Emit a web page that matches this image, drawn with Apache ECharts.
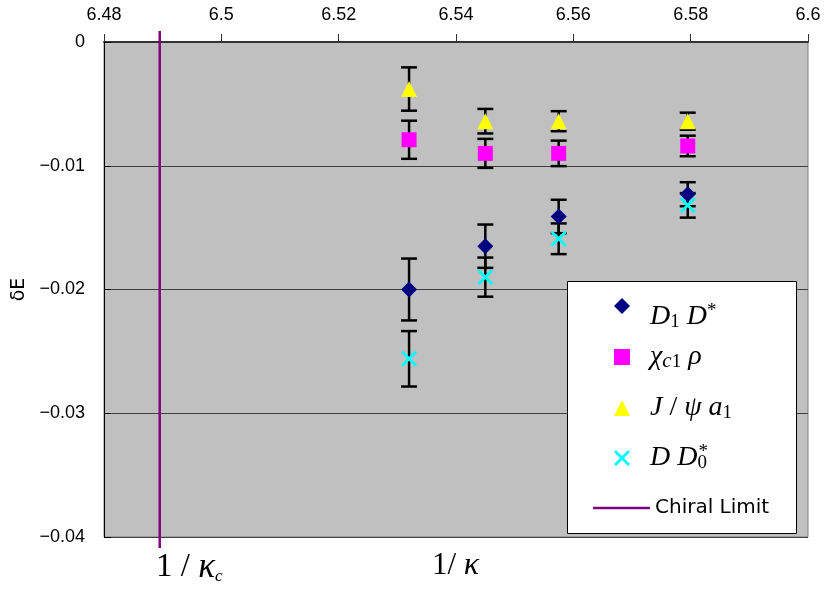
<!DOCTYPE html>
<html>
<head>
<meta charset="utf-8">
<title>delta E vs 1/kappa</title>
<script src="https://cdn.jsdelivr.net/npm/echarts@6/dist/echarts.min.js"></script>
<style>
	html, body { margin: 0; padding: 0; background: #fff; }
	#chart { width: 826px; height: 589px; }
</style>
</head>
<body>
<div id="chart"></div>
<script>
// 1/kappa values of the four runs
var kappaInv = [6.532, 6.545, 6.5575, 6.5795];
var chiralLimit = 6.4895;

// delta E and errors
var d1Vals = [-0.0200, -0.0165, -0.0141, -0.0123];
var d1Errs = [0.0025, 0.00175, 0.00135, 0.00097];
var chiVals = [-0.0079, -0.0090, -0.0090, -0.0084];
var chiErrs = [0.00154, 0.00117, 0.00103, 0.00083];
var jpsiVals = [-0.0038, -0.0064, -0.0064, -0.0064];
var jpsiErrs = [0.00175, 0.00099, 0.00081, 0.00069];
var dd0Vals = [-0.0256, -0.0190, -0.0159, -0.0132];
var dd0Errs = [0.00224, 0.00158, 0.00124, 0.00099];

var xTicks = { min: 6.48, max: 6.6, step: 0.02 };
var yTicks = { min: -0.04, max: 0, step: 0.01 };

// rich text for the legend entries
var legendText = {
	'D1 D*': '{i|D}{sub|1}{r| }{i|D}{sup|*}',
	'chi_c1 rho': '{i|χ}{subi|c}{sub|1}{r| }{i|ρ}',
	'J/psi a1': '{i|J}{r| / }{i|ψ}{r| }{i|a}{sub|1}',
	'D D0*': '{i|D}{r| }{i|D}{subz|0}{sup|*}',
	'Chiral Limit': '{s|Chiral Limit}'
};

var richStyles = {
	i: { fontFamily: 'Liberation Serif', fontStyle: 'italic', fontSize: 28, color: '#000' },
	r: { fontFamily: 'Liberation Serif', fontSize: 28, color: '#000' },
	sub: { fontFamily: 'Liberation Serif', fontSize: 19, color: '#000', verticalAlign: 'bottom' },
	subi: { fontFamily: 'Liberation Serif', fontStyle: 'italic', fontSize: 21, color: '#000', verticalAlign: 'bottom' },
	subz: { fontFamily: 'Liberation Serif', fontSize: 19, color: '#000', verticalAlign: 'bottom', width: 1 },
	sup: { fontFamily: 'Liberation Serif', fontSize: 19, color: '#000', verticalAlign: 'top' },
	s: { fontFamily: 'DejaVu Sans', fontSize: 20, color: '#000' },
};

var crossPath = 'path://M0,2.5 L2.5,0 L10,7.5 L17.5,0 L20,2.5 L12.5,10 L20,17.5 L17.5,20 L10,12.5 L2.5,20 L0,17.5 L7.5,10 Z';
var linePath = 'path://M0,0 L57,0 L57,2.5 L0,2.5 Z';

function points(vals) {
	return kappaInv.map(function(x, i) {
		return [x, vals[i]];
	});
}

function errPoints(vals, errs) {
	return kappaInv.map(function(x, i) {
		return [x, vals[i], errs[i]];
	});
}

function renderErrorBar(params, api) {
	var x = api.value(0);
	var hi = api.coord([x, api.value(1) + api.value(2)]);
	var lo = api.coord([x, api.value(1) - api.value(2)]);
	var half = 8;
	var style = { stroke: '#000', lineWidth: 2.5 };
	return {
		type: 'group',
		children: [
			{ type: 'line', shape: { x1: hi[0], y1: hi[1], x2: lo[0], y2: lo[1] }, style: style },
			{ type: 'line', shape: { x1: hi[0] - half, y1: hi[1], x2: hi[0] + half, y2: hi[1] }, style: style },
			{ type: 'line', shape: { x1: lo[0] - half, y1: lo[1], x2: lo[0] + half, y2: lo[1] }, style: style },
		],
	};
}

function renderChiral(params, api) {
	var top = api.coord([api.value(0), yTicks.max]);
	var bottom = api.coord([api.value(0), yTicks.min]);
	return {
		type: 'line',
		shape: { x1: top[0], y1: top[1] - 11, x2: bottom[0], y2: bottom[1] + 11 },
		style: { stroke: '#800080', lineWidth: 2.5 },
	};
}

function errSeries(name, vals, errs) {
	return {
		name: name,
		type: 'custom',
		renderItem: renderErrorBar,
		data: errPoints(vals, errs),
		z: 3,
		silent: true,
	};
}

function markerSeries(name, vals, symbol, size, color) {
	return {
		name: name,
		type: 'scatter',
		symbol: symbol,
		symbolSize: size,
		itemStyle: { color: color, opacity: 1 },
		data: points(vals),
		z: 4,
	};
}

// one legend per row so every row can be placed like the original box
function legendRow(item, left, top, width, padTop, padLeft) {
	return {
		data: [item],
		orient: 'vertical',
		left: left,
		top: top,
		padding: 0,
		itemWidth: width,
		itemHeight: 16,
		z: 10,
		selectedMode: false,
		formatter: function(name) {
			return legendText[name];
		},
		textStyle: {
			lineHeight: 30,
			padding: [padTop, 0, 0, padLeft],
			rich: richStyles,
		},
	};
}

var chart = echarts.init(document.getElementById('chart'));

var option = {
	animation: false,
	grid: {
		left: 104,
		right: 18,
		top: 42,
		bottom: 52,
		show: true,
		backgroundColor: '#C0C0C0',
		borderColor: '#808080',
		borderWidth: 1,
	},
	xAxis: {
		type: 'value',
		position: 'top',
		min: xTicks.min,
		max: xTicks.max,
		interval: xTicks.step,
		axisLine: { onZero: false, lineStyle: { color: '#333', width: 2 } },
		axisTick: { show: true, inside: false, length: 8, lineStyle: { color: '#333' } },
		axisLabel: { margin: 18, fontFamily: 'Liberation Sans', fontSize: 18, color: '#000' },
		splitLine: { show: false },
	},
	yAxis: {
		type: 'value',
		min: yTicks.min,
		max: yTicks.max,
		interval: yTicks.step,
		name: 'δE',
		nameLocation: 'middle',
		nameRotate: 90,
		nameGap: 67,
		nameTextStyle: { fontFamily: 'DejaVu Sans', fontSize: 19, color: '#000' },
		axisLine: { onZero: false, lineStyle: { color: '#000', width: 1 } },
		axisTick: { show: true, inside: true, length: 7, lineStyle: { color: '#000' } },
		axisLabel: {
			margin: 19,
			fontFamily: 'Liberation Sans',
			fontSize: 18,
			color: '#000',
			formatter: function(v) {
				if (Math.abs(v) < 1e-9) return '0';
				return '\u2212' + Math.abs(v).toFixed(2);
			},
		},
		splitLine: { show: true, lineStyle: { color: '#404040', width: 1 } },
	},
	legend: [
		legendRow('D1 D*', 614, 280, 16, 22, 15),
		legendRow('chi_c1 rho', 614, 342, 16, 0, 15),
		legendRow('J/psi a1', 614, 393, 16, 0, 15),
		legendRow('D D0*', 614, 443, 16, 0, 15),
		legendRow({ name: 'Chiral Limit', icon: linePath }, 593, 493, 57, 0, 0),
	],
	graphic: [
		{
			type: 'rect',
			left: 567,
			top: 281,
			shape: { width: 229, height: 252 },
			style: { fill: '#fff', stroke: '#000', lineWidth: 1 },
			z: 9,
		},
		{
			type: 'text',
			left: 156,
			top: 550,
			style: {
				text: '{r|1 / }{i|κ}{sub|c}',
				rich: {
					r: { fontFamily: 'Liberation Serif', fontSize: 33, fill: '#000' },
					i: { fontFamily: 'Liberation Serif', fontStyle: 'italic', fontSize: 35, fill: '#000' },
					sub: { fontFamily: 'Liberation Serif', fontStyle: 'italic', fontSize: 17, fill: '#000', verticalAlign: 'bottom' },
				},
			},
		},
		{
			type: 'text',
			left: 432,
			top: 550,
			style: {
				text: '{r|1/ }{i|κ}',
				rich: {
					r: { fontFamily: 'Liberation Serif', fontSize: 31, fill: '#000' },
					i: { fontFamily: 'Liberation Serif', fontStyle: 'italic', fontSize: 32, fill: '#000' },
				},
			},
		},
	],
	series: [
		{
			name: 'Chiral Limit',
			type: 'custom',
			renderItem: renderChiral,
			data: [[chiralLimit]],
			itemStyle: { color: '#800080' },
			clip: false,
			z: 2,
			silent: true,
		},
		errSeries('err1', d1Vals, d1Errs),
		errSeries('err2', chiVals, chiErrs),
		errSeries('err3', jpsiVals, jpsiErrs),
		errSeries('err4', dd0Vals, dd0Errs),
		markerSeries('D1 D*', d1Vals, 'diamond', 16, '#000080'),
		markerSeries('chi_c1 rho', chiVals, 'rect', 15, '#FF00FF'),
		markerSeries('J/psi a1', jpsiVals, 'triangle', 16, '#FFFF00'),
		markerSeries('D D0*', dd0Vals, crossPath, 16, '#00FFFF'),
	],
};

chart.setOption(option);
</script>
</body>
</html>
